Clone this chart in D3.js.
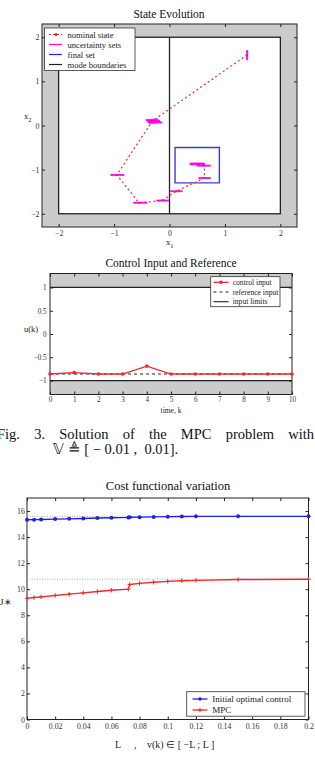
<!DOCTYPE html>
<html>
<head>
<meta charset="utf-8">
<script src="https://cdn.jsdelivr.net/npm/d3@7"></script>
<style>
  body { margin: 0; background: #fff; overflow: hidden; }
  svg { display: block; font-family: "Liberation Serif", "Times New Roman", serif; }
</style>
</head>
<body>
<svg id="chart" width="315" height="764"></svg>
<script>
// ---- state evolution data
const stateTicks = [-2, -1, 0, 1, 2];
const stateTickLabels = ["\u22122", "\u22121", "0", "1", "2"];
const nominalX = [1.40, -0.31, -0.95, -0.55, -0.13, 0.12, 0.63, 0.63, 0.50];
const nominalY = [1.60, 0.10, -1.12, -1.75, -1.70, -1.49, -1.19, -0.91, -0.88];
const uncertaintySets = [
    [[1.39, 1.49], [1.41, 1.49], [1.41, 1.70], [1.39, 1.70]],
    [[-0.43, 0.13], [-0.22, 0.15], [-0.13, 0.06], [-0.37, 0.05]],
    [[-1.06, -1.11], [-0.82, -1.11], [-0.82, -1.13], [-1.06, -1.13]],
    [[-0.65, -1.74], [-0.41, -1.74], [-0.41, -1.76], [-0.65, -1.76]],
    [[-0.23, -1.69], [-0.01, -1.69], [-0.01, -1.71], [-0.23, -1.71]],
    [[0.02, -1.48], [0.23, -1.48], [0.23, -1.50], [0.02, -1.50]],
    [[0.53, -1.18], [0.74, -1.18], [0.74, -1.20], [0.53, -1.20]],
    [[0.50, -0.90], [0.74, -0.90], [0.74, -0.92], [0.50, -0.92]],
    [[0.37, -0.85], [0.63, -0.85], [0.63, -0.89], [0.37, -0.89]]
];
const finalSet = [[0.1, -0.5], [0.9, -0.5], [0.9, -1.3], [0.1, -1.3]];
const stateBox = [-2, 2];
const modeBoundary = [[0, -2], [0, 2]];
const stateLegend = ["nominal state", "uncertainty sets", "final set", "mode boundaries"];

// ---- control input data
const timeSteps = [0, 1, 2, 3, 4, 5, 6, 7, 8, 9, 10];
const controlInput = [-0.86, -0.83, -0.86, -0.86, -0.69, -0.86, -0.86, -0.86, -0.86, -0.86, -0.86];
const referenceInput = [-0.86, -0.86, -0.86, -0.86, -0.86, -0.86, -0.86, -0.86, -0.86, -0.86, -0.86];
const inputLimits = [-1, 1];
const inputTicks = [-1, -0.5, 0, 0.5, 1];
const inputTickLabels = ["\u22121", "\u22120.5", "0", "0.5", "1"];
const controlLegend = ["control input", "reference input", "input limits"];

// ---- cost functional data
const boundL = [0, 0.005, 0.01, 0.02, 0.03, 0.04, 0.05, 0.06, 0.072, 0.073, 0.08, 0.09, 0.1, 0.11, 0.12, 0.15, 0.2];
const initialCost = [15.33, 15.34, 15.35, 15.38, 15.40, 15.43, 15.46, 15.48, 15.51, 15.52, 15.53, 15.55, 15.57, 15.58, 15.59, 15.59, 15.59];
const mpcCost = [9.30, 9.36, 9.41, 9.52, 9.62, 9.72, 9.82, 9.92, 10.00, 10.36, 10.45, 10.53, 10.60, 10.65, 10.68, 10.74, 10.76];
const costLimits = [15.59, 10.77];
const costXTicks = [0, 0.02, 0.04, 0.06, 0.08, 0.1, 0.12, 0.14, 0.16, 0.18, 0.2];
const costXTickLabels = ["0", "0.02", "0.04", "0.06", "0.08", "0.1", "0.12", "0.14", "0.16", "0.18", "0.2"];
const costYTicks = [0, 2, 4, 6, 8, 10, 12, 14, 16];
const costLegend = ["Initial optimal control", "MPC"];

const svg = d3.select("#chart");
const tickColor = "#333";
const red = "#f02828", blue = "#1f1ff0", magenta = "#ff00ff";

// draws inward ticks on all four sides + labels on bottom/left
function boxAxes(g, x, y, xt, xl, yt, yl, fs, padX, padY) {
    const [x0, x1] = x.range(), [y0, y1] = y.range();
    g.append("g").attr("transform", `translate(0,${y0})`)
        .call(d3.axisBottom(x).tickValues(xt).tickFormat((d, i) => xl[i]).tickSizeInner(-3).tickSizeOuter(0).tickPadding(padX));
    g.append("g").attr("transform", `translate(0,${y1})`)
        .call(d3.axisTop(x).tickValues(xt).tickFormat("").tickSizeInner(-3).tickSizeOuter(0));
    g.append("g").attr("transform", `translate(${x0},0)`)
        .call(d3.axisLeft(y).tickValues(yt).tickFormat((d, i) => yl[i]).tickSizeInner(-3).tickSizeOuter(0).tickPadding(padY));
    g.append("g").attr("transform", `translate(${x1},0)`)
        .call(d3.axisRight(y).tickValues(yt).tickFormat("").tickSizeInner(-3).tickSizeOuter(0));
    g.selectAll(".domain").remove();
    g.selectAll(".tick line").attr("stroke", "#222");
    g.selectAll(".tick text").attr("fill", tickColor).style("font-size", fs + "px").style("font-family", "Liberation Serif");
    g.append("rect").attr("x", x0).attr("y", y1).attr("width", x1 - x0).attr("height", y0 - y1)
        .attr("fill", "none").attr("stroke", "#222").attr("stroke-width", 1);
}

function legendBox(g, x, y, w, h) {
    g.append("rect").attr("x", x).attr("y", y).attr("width", w).attr("height", h)
        .attr("fill", "#fff").attr("stroke", "#333").attr("stroke-width", 0.8);
}

// ================= State Evolution
{
    const x = d3.scaleLinear().domain([-2.3, 2.3]).range([42, 297]);
    const y = d3.scaleLinear().domain([-2.3, 2.3]).range([227, 24]);
    const g = svg.append("g");

    g.append("rect").attr("x", 42).attr("y", 24).attr("width", 255).attr("height", 203).attr("fill", "#cbcbcb");
    g.append("rect")
        .attr("x", x(stateBox[0])).attr("y", y(stateBox[1]))
        .attr("width", x(stateBox[1]) - x(stateBox[0])).attr("height", y(stateBox[0]) - y(stateBox[1]))
        .attr("fill", "#fff").attr("stroke", "#222").attr("stroke-width", 1.3);
    g.append("path").attr("d", d3.line().x(d => x(d[0])).y(d => y(d[1]))(modeBoundary))
        .attr("stroke", "#222").attr("stroke-width", 1.3);

    boxAxes(g, x, y, stateTicks, stateTickLabels, stateTicks, stateTickLabels, 7.8, 3, 2.5);

    const poly = d3.line().x(d => x(d[0])).y(d => y(d[1])).curve(d3.curveLinearClosed);
    g.append("path").attr("d", poly(finalSet)).attr("fill", "none").attr("stroke", "#3b3bdc").attr("stroke-width", 1.4);

    const pts = nominalX.map((v, i) => [v, nominalY[i]]);
    g.append("path").attr("d", d3.line().x(d => x(d[0])).y(d => y(d[1]))(pts))
        .attr("fill", "none").attr("stroke", "#f03c3c").attr("stroke-width", 1.3).attr("stroke-dasharray", "2,2.6");
    g.selectAll(".uset").data(uncertaintySets).join("path")
        .attr("d", poly).attr("fill", magenta).attr("stroke", magenta).attr("stroke-width", 0.9);
    g.selectAll(".nom").data(pts).join("circle")
        .attr("cx", d => x(d[0])).attr("cy", d => y(d[1])).attr("r", 1).attr("fill", red);

    g.append("text").attr("x", 169).attr("y", 18).attr("text-anchor", "middle")
        .style("font-size", "11.5px").attr("fill", "#111").text("State Evolution");
    const xl = g.append("text").attr("x", 166).attr("y", 245).style("font-size", "8.5px").attr("fill", "#222");
    xl.append("tspan").text("x");
    xl.append("tspan").attr("dy", 3).style("font-size", "6.5px").text("1");
    const yl = g.append("text").attr("x", 24).attr("y", 119).style("font-size", "8.5px").attr("fill", "#222");
    yl.append("tspan").text("x");
    yl.append("tspan").attr("dy", 3).style("font-size", "6.5px").text("2");

    // legend
    const lg = g.append("g");
    legendBox(lg, 44.5, 28, 90.5, 42.5);
    stateLegend.forEach((name, i) => {
        const ly = 34.5 + i * 10;
        const col = [red, magenta, "#2626e0", "#222"][i];
        lg.append("line").attr("x1", 49).attr("x2", 62).attr("y1", ly).attr("y2", ly)
            .attr("stroke", col).attr("stroke-width", 1.2).attr("stroke-dasharray", i === 0 ? "2,2" : null);
        if (i === 0) lg.append("circle").attr("cx", 56).attr("cy", ly).attr("r", 1.6).attr("fill", red);
        lg.append("text").attr("x", 67.5).attr("y", ly + 3).style("font-size", "8.6px").attr("fill", "#222").text(name);
    });
}

// ================= Control Input and Reference
{
    const x = d3.scaleLinear().domain([0, 10]).range([50, 292]);
    const y = d3.scaleLinear().domain([-1.3, 1.3]).range([394.5, 273.5]);
    const g = svg.append("g");

    g.append("rect").attr("x", 50).attr("y", 273.5).attr("width", 242).attr("height", 121).attr("fill", "#cbcbcb");
    g.append("rect").attr("x", 50).attr("y", y(inputLimits[1])).attr("width", 242)
        .attr("height", y(inputLimits[0]) - y(inputLimits[1])).attr("fill", "#fff");
    inputLimits.forEach(v => {
        g.append("line").attr("x1", 50).attr("x2", 292).attr("y1", y(v)).attr("y2", y(v))
            .attr("stroke", "#222").attr("stroke-width", 1.2);
    });

    boxAxes(g, x, y, timeSteps, timeSteps.map(String), inputTicks, inputTickLabels, 7.2, 2.5, 3.3);

    g.append("path").attr("d", d3.line().x((d, i) => x(timeSteps[i])).y(d => y(d))(referenceInput))
        .attr("fill", "none").attr("stroke", "#222").attr("stroke-width", 1.2).attr("stroke-dasharray", "3,3");
    g.append("path").attr("d", d3.line().x((d, i) => x(timeSteps[i])).y(d => y(d))(controlInput))
        .attr("fill", "none").attr("stroke", red).attr("stroke-width", 1.3);
    g.selectAll(".cu").data(controlInput).join("circle")
        .attr("cx", (d, i) => x(timeSteps[i])).attr("cy", d => y(d)).attr("r", 1.8).attr("fill", red);

    g.append("text").attr("x", 171).attr("y", 267).attr("text-anchor", "middle")
        .style("font-size", "11.5px").attr("fill", "#111").text("Control Input and Reference");
    g.append("text").attr("x", 24).attr("y", 332).style("font-size", "8.5px").attr("fill", "#222").text("u(k)");
    g.append("text").attr("x", 171).attr("y", 413).attr("text-anchor", "middle")
        .style("font-size", "7.5px").attr("fill", "#222").text("time,  k");

    const lg = g.append("g");
    legendBox(lg, 210.7, 276.7, 69.3, 30);
    controlLegend.forEach((name, i) => {
        const ly = 282.3 + i * 9.7;
        if (i === 0) {
            lg.append("line").attr("x1", 213.5).attr("x2", 228.5).attr("y1", ly).attr("y2", ly).attr("stroke", red).attr("stroke-width", 1.3);
            lg.append("circle").attr("cx", 221).attr("cy", ly).attr("r", 1.8).attr("fill", red);
        } else {
            lg.append("line").attr("x1", 213.5).attr("x2", 228.5).attr("y1", ly).attr("y2", ly)
                .attr("stroke", "#222").attr("stroke-width", 1.1).attr("stroke-dasharray", i === 1 ? "3,3" : null);
        }
        lg.append("text").attr("x", 232.7).attr("y", ly + 2.6).style("font-size", "7.6px").attr("fill", "#222").text(name);
    });
}

// ================= caption (justified first line via word spacing)
{
    const cap = svg.append("text").attr("x", -3).attr("y", 439)
        .style("font-size", "14.5px").attr("fill", "#111").text("Fig. 3. Solution of the MPC problem with");
    const natural = cap.node().getComputedTextLength();
    const gaps = 7;
    cap.style("word-spacing", ((317 - natural) / gaps) + "px");
    svg.append("text").attr("x", 53).attr("y", 453.5)
        .style("font-size", "14.5px").attr("fill", "#111").style("white-space", "pre")
        .text("\uD835\uDD4D \u225C [ \u2212 0.01 ,  0.01].");
}

// ================= Cost functional variation
{
    const x = d3.scaleLinear().domain([0, 0.2]).range([27, 308.5]);
    const y = d3.scaleLinear().domain([0, 17]).range([719.5, 498]);
    const g = svg.append("g");

    boxAxes(g, x, y, costXTicks, costXTickLabels, costYTicks, costYTicks.map(String), 7.8, 3.5, 2.2);

    costLimits.forEach(v => {
        g.append("line").attr("x1", x(0)).attr("x2", x(0.2)).attr("y1", y(v)).attr("y2", y(v))
            .attr("stroke", "#888").attr("stroke-width", 0.7).attr("stroke-dasharray", "1,1.5");
    });

    const line = vals => d3.line().x((d, i) => x(boundL[i])).y(d => y(d))(vals);
    g.append("path").attr("d", line(initialCost)).attr("fill", "none").attr("stroke", blue).attr("stroke-width", 1.4);
    g.selectAll(".ic").data(initialCost).join("circle")
        .attr("cx", (d, i) => x(boundL[i])).attr("cy", d => y(d)).attr("r", 2).attr("fill", blue);
    g.append("path").attr("d", line(mpcCost)).attr("fill", "none").attr("stroke", red).attr("stroke-width", 1.4);
    g.selectAll(".mp").data(mpcCost).join("path")
        .attr("d", (d, i) => { const cx = x(boundL[i]), cy = y(d); return `M${cx - 2.2},${cy}H${cx + 2.2}M${cx},${cy - 2.2}V${cy + 2.2}`; })
        .attr("stroke", red).attr("stroke-width", 1);

    g.append("text").attr("x", 168).attr("y", 490).attr("text-anchor", "middle")
        .style("font-size", "12.5px").attr("fill", "#111").text("Cost functional variation");
    g.append("text").attr("x", 0).attr("y", 605).style("font-size", "9px").attr("fill", "#222").text("J\u2217");
    const xlab = g.append("text").attr("y", 748).style("font-size", "10px").attr("fill", "#222");
    xlab.append("tspan").attr("x", 115).text("L");
    xlab.append("tspan").attr("x", 134).text(",");
    xlab.append("tspan").attr("x", 147).text("v(k) \u2208 [ \u2212L ; L ]");

    const lg = g.append("g");
    legendBox(lg, 186.7, 691.7, 118.3, 24.5);
    costLegend.forEach((name, i) => {
        const ly = 699 + i * 11;
        const col = i === 0 ? blue : red;
        lg.append("line").attr("x1", 192.5).attr("x2", 207.5).attr("y1", ly).attr("y2", ly).attr("stroke", col).attr("stroke-width", 1.3);
        if (i === 0) lg.append("circle").attr("cx", 200).attr("cy", ly).attr("r", 1.8).attr("fill", col);
        else lg.append("path").attr("d", `M197.8,${ly}H202.2M200,${ly - 2.2}V${ly + 2.2}`).attr("stroke", col).attr("stroke-width", 1);
        lg.append("text").attr("x", 212.3).attr("y", ly + 3).style("font-size", "9px").attr("fill", "#222").text(name);
    });
}
</script>
</body>
</html>
